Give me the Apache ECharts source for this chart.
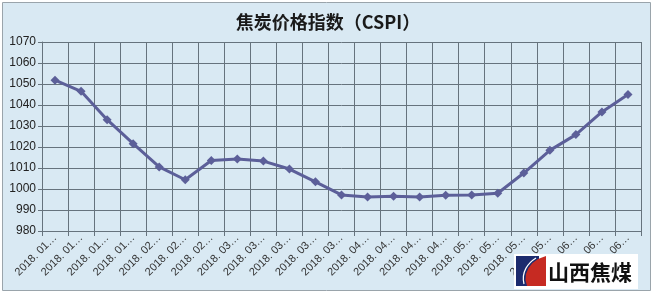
<!DOCTYPE html>
<html>
<head>
<meta charset="utf-8">
<script src="https://cdn.jsdelivr.net/npm/echarts@6/dist/echarts.min.js"></script>
<style>
html,body{margin:0;padding:0;background:#ffffff;}
#chart{width:656px;height:294px;}
</style>
</head>
<body>
<div id="chart"></div>
<script>
const categories = [
  "2018. 01…","2018. 01…","2018. 01…","2018. 01…",
  "2018. 02…","2018. 02…","2018. 02…",
  "2018. 03…","2018. 03…","2018. 03…","2018. 03…","2018. 03…",
  "2018. 04…","2018. 04…","2018. 04…","2018. 04…",
  "2018. 05…","2018. 05…","2018. 05…","2018. 05…",
  "2018. 06…","2018. 06…","2018. 06…"
];
const cspiValues = [
  1051.8, 1046.5, 1033.0, 1021.6, 1010.5, 1004.4, 1013.6, 1014.3, 1013.3, 1009.5, 1003.4, 997.2,
  996.2, 996.6, 996.2, 997.0, 997.1, 998.0, 1007.6, 1018.4, 1025.9, 1036.7, 1045.0
];
const yTicks = { min: 980, max: 1070, interval: 10 };
const titleText = "焦炭价格指数（CSPI）";
const logoText = "山西焦煤";

const chart = echarts.init(document.getElementById('chart'), null, {renderer: 'canvas'});
chart.setOption({
  backgroundColor: '#ffffff',
  animation: false,
  title: {
    text: titleText,
    left: 'center',
    top: 8,
    textStyle: {fontFamily: 'Noto Sans CJK SC', fontSize: 18, fontWeight: 'bold', color: '#1a1a1a'}
  },
  grid: {left: 42, right: 15, top: 42, bottom: 63},
  xAxis: {
    type: 'category',
    data: categories,
    boundaryGap: true,
    axisLine: {show: true, lineStyle: {color: '#66737d', width: 1}},
    axisTick: {show: true, alignWithLabel: false, length: 5, lineStyle: {color: '#66737d'}},
    splitLine: {show: true, lineStyle: {color: '#66737d', width: 1}},
    axisLabel: {interval: 0, rotate: 45, fontSize: 11, color: '#333333', fontFamily: 'Liberation Sans', margin: 5}
  },
  yAxis: {
    type: 'value',
    min: yTicks.min, max: yTicks.max, interval: yTicks.interval,
    axisLine: {show: true, lineStyle: {color: '#66737d'}},
    axisTick: {show: true, length: 4, lineStyle: {color: '#66737d'}},
    splitLine: {show: true, lineStyle: {color: '#66737d', width: 1}},
    axisLabel: {fontSize: 12, color: '#222222', fontFamily: 'Liberation Sans', margin: 6,
      formatter: function (v) { return String(v); }}
  },
  series: [{
    type: 'line',
    data: cspiValues,
    symbol: 'diamond',
    symbolSize: 9,
    lineStyle: {color: '#5c5f99', width: 3},
    itemStyle: {color: '#5c5f99'},
    z: 5
  }],
  graphic: [
    {type: 'rect', z: -10, shape: {x: 2.5, y: 2.5, width: 648, height: 288},
     style: {fill: '#d9e9f3', stroke: '#9aa4ab', lineWidth: 1}},
    {type: 'rect', z: 100, shape: {x: 514, y: 254, width: 124, height: 35}, style: {fill: '#ffffff'}},
    {type: 'rect', z: 101, shape: {x: 516, y: 256, width: 23, height: 30}, style: {fill: '#1c2b6e'}},
    {type: 'polygon', z: 102, shape: {points: [[527,286],[525.5,280],[526,274],[528.5,268],[532.5,263],[538,259],[546,256],[546,286]]},
     style: {fill: '#c62a22'}},
    {type: 'bezierCurve', z: 103, shape: {x1: 524, y1: 284, x2: 536, y2: 258, cpx1: 521, cpy1: 272, cpx2: 528, cpy2: 263},
     style: {fill: null, stroke: '#ffffff', lineWidth: 1.2}},
    {type: 'text', z: 104, left: 548, top: 262,
     style: {text: logoText, fontFamily: 'Noto Sans CJK SC', fontWeight: 'bold', fontSize: 21, fill: '#111111'}}
  ]
});
</script>
</body>
</html>
